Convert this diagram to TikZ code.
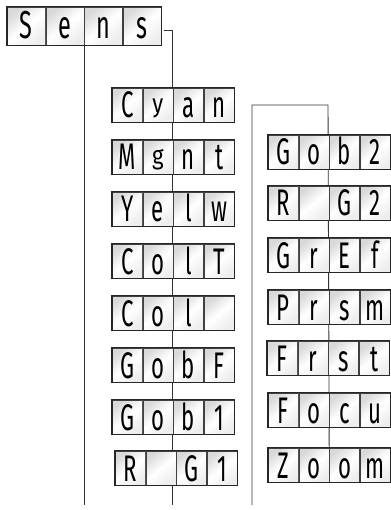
\documentclass[tikz,border=0pt]{standalone}
\usepackage{fontspec}
\setmainfont{Fira Sans}[FakeStretch=0.6]
\usetikzlibrary{fit}
\pgfdeclarelayer{background}
\pgfsetlayers{background,main}
\newcommand\lowlet[1]{\raisebox{\depth}{\scalebox{1}[0.7]{#1}}}
\tikzset{
 cellbase/.style={draw=black!75, line width=0.6pt, inner sep=0pt, anchor=west,
   left color=gray!30, right color=gray!14, middle color=white, shading angle=40},
 cell/.style={cellbase, minimum width=30pt, minimum height=34pt, text height=30pt, text depth=4pt,
   font=\fontsize{37}{37}\selectfont, text=black},
 bigcell/.style={cellbase, minimum width=38pt, minimum height=38pt, text height=32pt, text depth=6pt,
   font=\fontsize{39}{39}\selectfont, text=black},
 frame/.style={draw=black!85, line width=1.1pt, inner sep=0pt},
 wire/.style={draw=black!80, line width=0.9pt},
}
\newcommand\dispbox[7][cell]{%
 \node[#1] (#2-1) at (#3) {#4};
 \node[#1] (#2-2) at (#2-1.east) {#5};
 \node[#1] (#2-3) at (#2-2.east) {#6};
 \node[#1] (#2-4) at (#2-3.east) {#7};
 \node[frame, fit=(#2-1)(#2-4)] (#2) {};
}
\begin{document}
\begin{tikzpicture}[x=1pt,y=-1pt]
\useasboundingbox (0,0) rectangle (390,510);
\dispbox[bigcell]{sens}{7,26}{S}{e}{n}{s}
% left column
\dispbox{cyan}{112,105}{C}{\lowlet{y}}{a}{n}
\dispbox{mgnt}{112,157}{M}{\lowlet{g}}{n}{t}
\dispbox{yelw}{112,209}{Y}{e}{l}{w}
\dispbox{colt}{112,261}{C}{o}{l}{T}
\dispbox{col}{112,313}{C}{o}{l}{}
\dispbox{gobf}{112,365}{G}{o}{b}{F}
\dispbox{gobone}{112,417}{G}{o}{b}{1}
\dispbox{rgone}{115,468}{R}{}{G}{1}
% right column
\dispbox{gobtwo}{268,152}{G}{o}{b}{2}
\dispbox{rgtwo}{268,203}{R}{}{G}{2}
\dispbox{gref}{268,255}{G}{r}{E}{f}
\dispbox{prsm}{268,307}{P}{r}{s}{m}
\dispbox{frst}{267,358}{F}{r}{s}{t}
\dispbox{focu}{268,410}{F}{o}{c}{u}
\dispbox{zoom}{268,465}{Z}{o}{o}{m}
% connectors
\coordinate (e1) at (172,505);
\coordinate (e2) at (84,505);
\coordinate (e3) at (252,505);
\coordinate (t3) at (328,105);
\begin{pgfonlayer}{background}
\draw[wire] ([shift={(2,4)}]sens.east) -| (e1);
\draw[wire] (sens.south -| e2) -- (e2);
\draw[wire] (e3) |- (t3) -- (zoom.north);
\end{pgfonlayer}
\end{tikzpicture}
\end{document}
